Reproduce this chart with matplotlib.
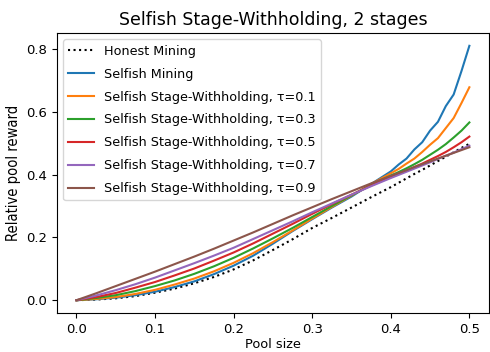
import matplotlib
matplotlib.use("Agg")
import matplotlib.pyplot as plt
from matplotlib.ticker import MultipleLocator

pool_size = [0, 0.025, 0.05, 0.075, 0.1, 0.125, 0.15, 0.175, 0.2, 0.225, 0.25, 0.275,
             0.3, 0.325, 0.35, 0.375, 0.4, 0.41, 0.42, 0.43, 0.44, 0.45, 0.46, 0.47,
             0.48, 0.49, 0.5]

honest = [0, 0.002, 0.006, 0.013, 0.024, 0.037, 0.054, 0.074, 0.098, 0.127, 0.16, 0.194,
          0.23, 0.262, 0.295, 0.328, 0.36, 0.374, 0.388, 0.402, 0.415, 0.429, 0.443,
          0.457, 0.471, 0.485, 0.498]
selfish = [0, 0.003, 0.008, 0.016, 0.027, 0.042, 0.06, 0.083, 0.11, 0.142, 0.18, 0.22,
           0.258, 0.295, 0.33, 0.37, 0.41, 0.432, 0.451, 0.48, 0.503, 0.54, 0.568,
           0.618, 0.655, 0.73, 0.81]
tau_labels = ["0.1", "0.3", "0.5", "0.7", "0.9"]
stage_withholding = [
    [0, 0.004, 0.01, 0.02, 0.033, 0.05, 0.069, 0.092, 0.119, 0.15, 0.185, 0.222,
     0.26, 0.297, 0.333, 0.37, 0.404, 0.418, 0.435, 0.451, 0.472, 0.495, 0.516,
     0.548, 0.58, 0.628, 0.678],
    [0, 0.007, 0.016, 0.029, 0.045, 0.063, 0.084, 0.108, 0.135, 0.165, 0.197, 0.23,
     0.265, 0.3, 0.334, 0.367, 0.397, 0.408, 0.42, 0.433, 0.447, 0.463, 0.479,
     0.497, 0.518, 0.54, 0.566],
    [0, 0.01, 0.023, 0.04, 0.058, 0.079, 0.101, 0.126, 0.152, 0.181, 0.212, 0.243,
     0.275, 0.306, 0.336, 0.365, 0.392, 0.402, 0.413, 0.424, 0.435, 0.447, 0.459,
     0.472, 0.487, 0.503, 0.521],
    [0, 0.015, 0.032, 0.051, 0.072, 0.095, 0.118, 0.142, 0.167, 0.195, 0.223, 0.251,
     0.28, 0.308, 0.336, 0.363, 0.389, 0.399, 0.409, 0.419, 0.429, 0.439, 0.45,
     0.46, 0.47, 0.481, 0.492],
    [0, 0.022, 0.045, 0.068, 0.091, 0.115, 0.139, 0.164, 0.19, 0.216, 0.243, 0.27,
     0.296, 0.322, 0.347, 0.372, 0.396, 0.405, 0.414, 0.424, 0.433, 0.442, 0.451,
     0.46, 0.469, 0.478, 0.487],
]

fig = plt.figure(figsize=(4.9, 3.52), dpi=100)
ax = fig.add_axes([0.116, 0.111, 0.882, 0.795])
ax.plot(pool_size, honest, 'k:', label="Honest Mining")
ax.plot(pool_size, selfish, label="Selfish Mining")
for tau, vals in zip(tau_labels, stage_withholding):
    ax.plot(pool_size, vals, label="Selfish Stage-Withholding, \u03c4=" + tau)
ax.yaxis.set_major_locator(MultipleLocator(0.2))
ax.xaxis.set_major_locator(MultipleLocator(0.1))
ax.set_title("Selfish Stage-Withholding, 2 stages", fontsize=12.5)
ax.set_xlabel("Pool size", fontsize=9.3, labelpad=2)
ax.set_ylabel("Relative pool reward", fontsize=10.5, fontstretch="condensed",
              family=["Liberation Sans Narrow", "DejaVu Sans"])
ax.tick_params(labelsize=9.5)
ax.legend(loc="upper left", fontsize=9.2, labelspacing=0.78)
fig.savefig("out.png", dpi=100)
